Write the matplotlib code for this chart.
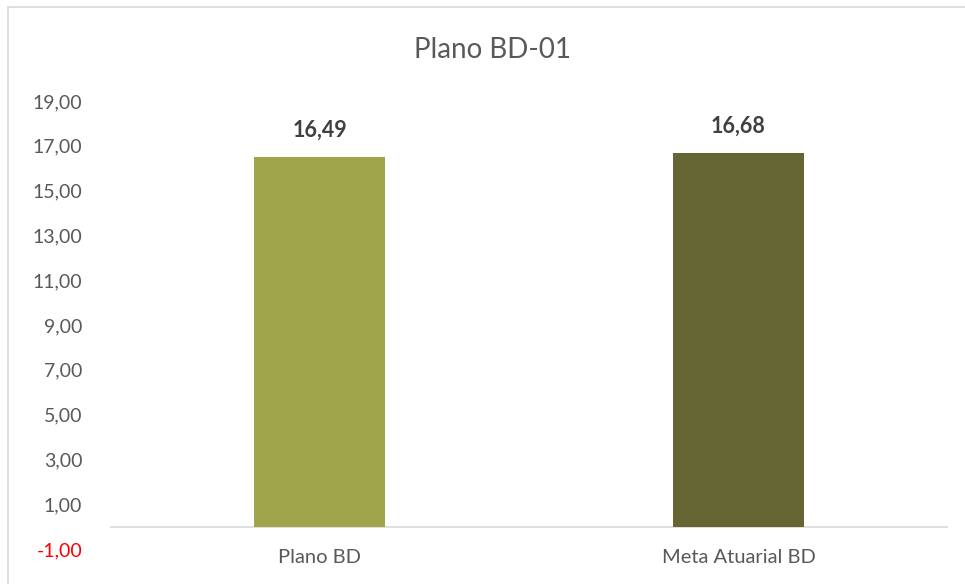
import matplotlib
matplotlib.use("Agg")
import matplotlib.pyplot as plt
from matplotlib.patches import Rectangle

categories = ["Plano BD", "Meta Atuarial BD"]
values = [16.49, 16.68]
bar_colors = ["#A0A44A", "#656433"]
y_ticks = [-1, 1, 3, 5, 7, 9, 11, 13, 15, 17, 19]

plt.rcParams["font.family"] = ["Lato", "DejaVu Sans"]

fig = plt.figure(figsize=(9.65, 5.84), dpi=100)
ax = fig.add_axes([110 / 965, 35 / 584, 838 / 965, 448 / 584])

# Chart frame
fig.patches.append(Rectangle((8 / 965, -0.1), 1.2, (577 - (-0.1 * 584)) / 584,
                             transform=fig.transFigure, fill=False,
                             edgecolor="#D9D9D9", linewidth=1.2))

x = list(range(len(categories)))
ax.bar(x, values, width=0.315, color=bar_colors, zorder=2)
ax.set_xlim(-0.5, len(categories) - 0.5)
ax.set_ylim(-1, 19)
ax.axhline(0, color="#D9D9D9", linewidth=1.2, zorder=1)

for xi, v in zip(x, values):
    ax.annotate(f"{v:.2f}".replace(".", ","), (xi, v), xytext=(0, 12),
                textcoords="offset points", ha="center", va="bottom",
                fontsize=15.5, fontweight="bold", color="#404040")

ax.set_yticks(y_ticks)
ax.set_yticklabels([f"{t:.2f}".replace(".", ",") for t in y_ticks])
for lbl, t in zip(ax.get_yticklabels(), y_ticks):
    lbl.set_color("#FF0000" if t < 0 else "#595959")
ax.tick_params(axis="y", length=0, pad=20, labelsize=14)

ax.set_xticks(x)
ax.set_xticklabels(categories)
ax.tick_params(axis="x", length=0, pad=0, labelsize=14.5, labelcolor="#595959")

for s in ax.spines.values():
    s.set_visible(False)

fig.text(492 / 965, 1 - 50 / 584, "Plano BD-01", ha="center", va="center",
         fontsize=20, color="#595959")

fig.savefig("out.png", dpi=100)
